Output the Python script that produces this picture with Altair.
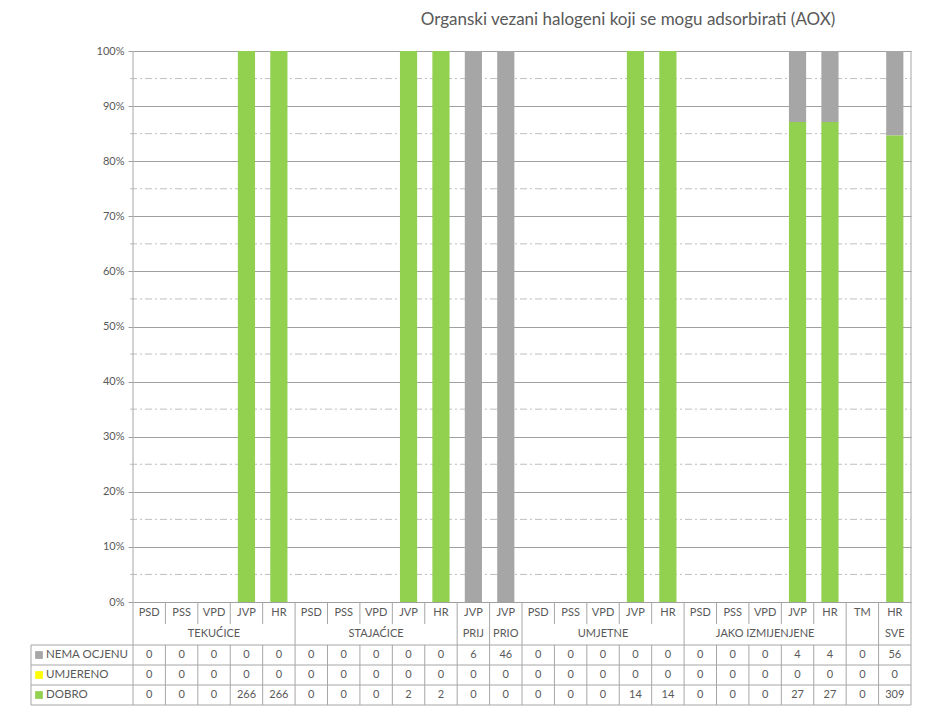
import altair as alt
import pandas as pd

# ---------------- data ----------------
categories = ["PSD", "PSS", "VPD", "JVP", "HR",
              "PSD", "PSS", "VPD", "JVP", "HR",
              "JVP", "JVP",
              "PSD", "PSS", "VPD", "JVP", "HR",
              "PSD", "PSS", "VPD", "JVP", "HR",
              "TM", "HR"]
group_labels = ["TEKUĆICE", "STAJAĆICE", "PRIJ", "PRIO", "UMJETNE", "JAKO IZMIJENJENE", "", "SVE"]
group_sizes = [5, 5, 1, 1, 5, 5, 1, 1]
series_names = ["NEMA OCJENU", "UMJERENO", "DOBRO"]
series_colors = ["#A6A6A6", "#FFFF00", "#92D050"]
nema_ocjenu = [0, 0, 0, 0, 0, 0, 0, 0, 0, 0, 6, 46, 0, 0, 0, 0, 0, 0, 0, 0, 4, 4, 0, 56]
umjereno = [0, 0, 0, 0, 0, 0, 0, 0, 0, 0, 0, 0, 0, 0, 0, 0, 0, 0, 0, 0, 0, 0, 0, 0]
dobro = [0, 0, 0, 266, 266, 0, 0, 0, 2, 2, 0, 0, 0, 0, 0, 14, 14, 0, 0, 0, 27, 27, 0, 309]
major_ticks = [0, 0.1, 0.2, 0.3, 0.4, 0.5, 0.6, 0.7, 0.8, 0.9, 1.0]
minor_ticks = [0.05, 0.15, 0.25, 0.35, 0.45, 0.55, 0.65, 0.75, 0.85, 0.95]
title_text = "Organski vezani halogeni koji se mogu adsorbirati  (AOX)"

# ---------------- layout ----------------
FONT = "Lato"
TXT = "#595959"
LINE = "#A6A6A6"
W, H = 778, 654          # plot area incl. data table
PLOT_H = 551             # bars part
ROW_A, ROW_B = 562, 583  # header rows centres
ROW_Y = [604, 624, 644]  # data rows centres
H_LINES = [594, 614, 634, 654]
LEFT = -102

ids = [f"c{i:02d}" for i in range(len(categories))]
lo = 1 - H / PLOT_H
yscale = alt.Scale(domain=[lo, 1], nice=False, zero=False)
yaxis = alt.Axis(values=major_ticks, format="%", title=None, grid=True,
                 gridColor="#A0A0A0", domain=False, tickSize=5,
                 tickColor="#A0A0A0", labelColor=TXT, labelFont=FONT,
                 labelFontSize=11, labelPadding=4)
xscale = alt.Scale(domain=ids, paddingInner=0, paddingOuter=0)
X = alt.X("id:N", scale=xscale, axis=None)
Xstart = alt.X("id:N", scale=xscale, axis=None, bandPosition=0)

series_vals = {"NEMA OCJENU": nema_ocjenu, "UMJERENO": umjereno, "DOBRO": dobro}
rows = []
for s_i, s in enumerate(series_names):
    for i, cid in enumerate(ids):
        rows.append({"id": cid, "series": s, "count": series_vals[s][i],
                     "ord": 2 - s_i})
long_df = pd.DataFrame(rows)

minor = alt.Chart(pd.DataFrame({"v": minor_ticks})).mark_rule(
    color="#BFBFBF", strokeDash=[7, 3, 2, 3], strokeWidth=1).encode(
    y=alt.Y("v:Q", scale=yscale, axis=yaxis),
    x=alt.value(-3), x2=alt.value(W))

bars = alt.Chart(long_df).mark_bar(width={"band": 0.53}).encode(
    x=X,
    y=alt.Y("count:Q", stack="normalize", scale=yscale, axis=yaxis),
    color=alt.Color("series:N", scale=alt.Scale(domain=series_names, range=series_colors),
                    legend=None),
    order=alt.Order("ord:Q"),
)

one = pd.DataFrame({"a": [0]})
layers = [minor, bars]

def hrule(y, x1, x2):
    return alt.Chart(one).mark_rule(color=LINE, strokeWidth=1).encode(
        x=alt.value(x1), x2=alt.value(x2), y=alt.value(y))

def vrule(x, y1, y2):
    return alt.Chart(one).mark_rule(color=LINE, strokeWidth=1).encode(
        x=alt.value(x), y=alt.value(y1), y2=alt.value(y2))

for hy in H_LINES:
    layers.append(hrule(hy, LEFT, W))
layers.append(vrule(LEFT, H_LINES[0], H))
layers.append(vrule(0, 0, H))
layers.append(vrule(W, 0, H))

# group boundaries / separators
bounds = []
pos = 0
for g in group_sizes:
    bounds.append(pos)
    pos += g
group_starts = [ids[b] for b in bounds[1:]]
inner = [ids[i] for i in range(1, len(ids)) if i not in bounds]
all_inner = ids[1:]

layers.append(alt.Chart(pd.DataFrame({"id": all_inner})).mark_rule(color=LINE).encode(
    x=Xstart, y=alt.value(H_LINES[0]), y2=alt.value(H)))
layers.append(alt.Chart(pd.DataFrame({"id": group_starts})).mark_rule(color=LINE).encode(
    x=Xstart, y=alt.value(PLOT_H), y2=alt.value(H_LINES[0])))
layers.append(alt.Chart(pd.DataFrame({"id": inner})).mark_rule(color=LINE).encode(
    x=Xstart, y=alt.value(PLOT_H), y2=alt.value(PLOT_H + 22)))

# header texts
txt_kw = dict(font=FONT, fontSize=11, color=TXT, baseline="middle", align="center")
layers.append(alt.Chart(pd.DataFrame({"id": ids, "lab": categories})).mark_text(**txt_kw).encode(
    x=X, y=alt.value(ROW_A), text="lab:N"))
mid_ids = []
pos = 0
for g in group_sizes:
    mid_ids.append(ids[pos + g // 2])
    pos += g
layers.append(alt.Chart(pd.DataFrame({"id": mid_ids, "lab": group_labels})).mark_text(**txt_kw).encode(
    x=X, y=alt.value(ROW_B), text="lab:N"))

# data rows + legend column
for r, s in enumerate(series_names):
    df = pd.DataFrame({"id": ids, "val": series_vals[s]})
    layers.append(alt.Chart(df).mark_text(**txt_kw).encode(
        x=X, y=alt.value(ROW_Y[r]), text="val:Q"))
    ldf = pd.DataFrame({"series": [s]})
    layers.append(alt.Chart(ldf).mark_square(size=60, opacity=1, filled=True).encode(
        x=alt.value(-94), y=alt.value(ROW_Y[r]),
        color=alt.Color("series:N", scale=alt.Scale(domain=series_names, range=series_colors),
                        legend=None)))
    layers.append(alt.Chart(ldf).mark_text(font=FONT, fontSize=11.5, color=TXT,
                                           baseline="middle", align="left").encode(
        x=alt.value(-87), y=alt.value(ROW_Y[r]), text="series:N"))

chart = alt.layer(*layers).properties(
    width=W, height=H,
    autosize=alt.AutoSizeParams(type="none"),
    padding={"left": 125, "top": 43, "right": 20, "bottom": 2},
    title=alt.TitleParams(title_text, anchor="middle", dx=106, offset=16, font=FONT,
                          fontSize=17, fontWeight="normal", color=TXT),
).configure_view(stroke=None)

chart.save("out.html", embed_options={"renderer": "svg", "actions": False})
